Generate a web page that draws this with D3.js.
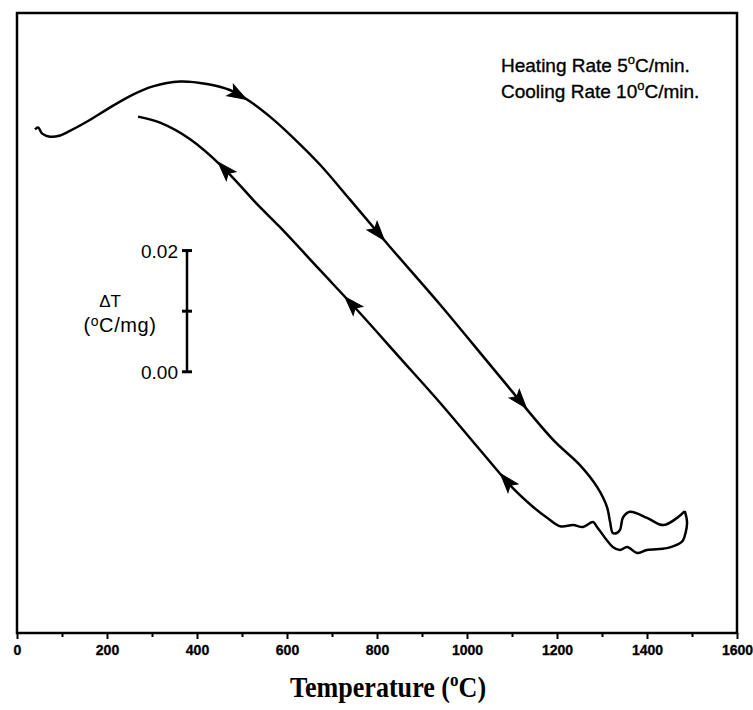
<!DOCTYPE html>
<html>
<head>
<meta charset="utf-8">
<script src="https://cdn.jsdelivr.net/npm/d3@7"></script>
<style>
  body { margin: 0; background: #fff; }
</style>
</head>
<body>
<svg id="chart" width="753" height="710"></svg>
<script>
// DTA trace. Temperature in degC, dT in degC/mg
// (zero placed at the 0.00 mark of the scale bar, the trace has no absolute offset)
const heatT  = [40, 47, 56, 73, 96, 111, 156, 200, 251, 302, 362, 422, 473, 518, 562, 607, 673, 740, 829, 940, 1073, 1191, 1251, 1289, 1311, 1318, 1324, 1333, 1340, 1347, 1362, 1400, 1436, 1467, 1484];
const heatDT = [0.0400, 0.0403, 0.0393, 0.0388, 0.0390, 0.0395, 0.0413, 0.0433, 0.0455, 0.0471, 0.0479, 0.0475, 0.0465, 0.0446, 0.0421, 0.0391, 0.0342, 0.0284, 0.0206, 0.0111, -0.0008, -0.0112, -0.0154, -0.0190, -0.0223, -0.0248, -0.0266, -0.0266, -0.0261, -0.0240, -0.0231, -0.0241, -0.0253, -0.0241, -0.0230];

const coolT  = [1484, 1489, 1480, 1473, 1444, 1400, 1378, 1356, 1340, 1324, 1289, 1280, 1258, 1236, 1207, 1178, 1147, 1102, 1029, 940, 851, 762, 673, 584, 533, 458, 384, 318, 269];
const coolDT = [-0.0230, -0.0250, -0.0278, -0.0283, -0.0291, -0.0294, -0.0299, -0.0289, -0.0294, -0.0289, -0.0256, -0.0248, -0.0256, -0.0253, -0.0255, -0.0241, -0.0223, -0.0192, -0.0129, -0.0051, 0.0023, 0.0097, 0.0168, 0.0239, 0.0277, 0.0337, 0.0384, 0.0411, 0.0421];

// where the direction arrows sit on each run
const heatArrowT = [491, 802, 1118];
const coolArrowT = [462, 744, 1089];

const xTicks = [0, 200, 400, 600, 800, 1000, 1200, 1400, 1600];
const xMinorTicks = [100, 300, 500, 700, 900, 1100, 1300, 1500];

const barTicks = [0, 0.01, 0.02];
const barLabels = ["0.00", "", "0.02"];

// plot box
const width = 753, height = 710;
const margin = {top: 13, left: 17, right: 16, bottom: 77};

const x = d3.scaleLinear()
    .domain([0, 1600])
    .range([margin.left, width - margin.right]);

const y = d3.scaleLinear()
    .domain([-0.0431, 0.0592])
    .range([height - margin.bottom, margin.top]);

const svg = d3.select('#chart');

// frame
svg.append('rect')
    .attr('x', margin.left)
    .attr('y', margin.top)
    .attr('width', width - margin.left - margin.right)
    .attr('height', height - margin.top - margin.bottom)
    .attr('fill', 'none')
    .attr('stroke', '#000')
    .attr('stroke-width', 2.5);

// x axis, major + minor ticks
const xAxis = svg.append('g')
    .attr('transform', `translate(0,${height - margin.bottom})`)
    .call(d3.axisBottom(x).tickValues(xTicks).tickSize(6).tickFormat(d3.format('d')));

xAxis.select('.domain').remove();
xAxis.selectAll('line').attr('stroke-width', 2);
xAxis.selectAll('text')
    .attr('font-family', 'Liberation Sans, Arial, sans-serif')
    .attr('font-weight', 'bold')
    .attr('font-size', 14)
    .attr('stroke', '#000')
    .attr('stroke-width', 0.3)
    .attr('dy', '0.95em');

const xMinor = svg.append('g')
    .attr('transform', `translate(0,${height - margin.bottom})`)
    .call(d3.axisBottom(x).tickValues(xMinorTicks).tickSize(4).tickFormat(''));
xMinor.select('.domain').remove();
xMinor.selectAll('line').attr('stroke-width', 2);

// axis title (condensed bold serif like the scan)
const title = svg.append('text')
    .attr('transform', `translate(${(x(0) + x(1600)) / 2 + 11},697) scale(0.9,1)`)
    .attr('text-anchor', 'middle')
    .attr('font-family', 'Liberation Serif, Times New Roman, serif')
    .attr('font-weight', 'bold')
    .attr('font-size', 29);
title.append('tspan').text('Temperature (');
title.append('tspan').attr('font-size', 19).attr('dy', -11).text('o');
title.append('tspan').attr('dy', 11).text('C)');

// the two runs
const line = d3.line()
    .x(d => x(d[0]))
    .y(d => y(d[1]))
    .curve(d3.curveCatmullRom.alpha(0.5));

const heatPts = heatT.map((t, i) => [t, heatDT[i]]);
const coolPts = coolT.map((t, i) => [t, coolDT[i]]);

svg.append('path')
    .attr('d', line(heatPts))
    .attr('fill', 'none')
    .attr('stroke', '#000')
    .attr('stroke-width', 2.5);

svg.append('path')
    .attr('d', line(coolPts))
    .attr('fill', 'none')
    .attr('stroke', '#000')
    .attr('stroke-width', 2.5);

// find point + heading on a run for a given temperature
function arrowAt(T, ts, vs) {
    for (let i = 0; i < ts.length - 1; i++) {
        const a = ts[i], b = ts[i + 1];
        if (a !== b && (T - a) * (T - b) <= 0) {
            const f = (T - a) / (b - a);
            const v = vs[i] + f * (vs[i + 1] - vs[i]);
            const ang = Math.atan2(y(vs[i + 1]) - y(vs[i]), x(b) - x(a)) * 180 / Math.PI;
            return {px: x(T), py: y(v), ang: ang};
        }
    }
}

const arrows = heatArrowT.map(t => arrowAt(t, heatT, heatDT))
    .concat(coolArrowT.map(t => arrowAt(t, coolT, coolDT)));

svg.selectAll('.arrow')
    .data(arrows)
    .enter()
    .append('path')
    .attr('class', 'arrow')
    .attr('d', 'M10,0 L-9,-6.5 L-5,0 L-9,6.5 Z')
    .attr('transform', d => `translate(${d.px},${d.py}) rotate(${d.ang})`)
    .attr('fill', '#000')
    .attr('stroke', '#000')
    .attr('stroke-width', 1);

// scale bar for dT
const barX = 187;
svg.append('line')
    .attr('x1', barX).attr('x2', barX)
    .attr('y1', y(barTicks[0])).attr('y2', y(barTicks[barTicks.length - 1]))
    .attr('stroke', '#000')
    .attr('stroke-width', 2.5);

svg.selectAll('.barcap')
    .data(barTicks)
    .enter()
    .append('line')
    .attr('class', 'barcap')
    .attr('x1', barX - 5).attr('x2', barX + 5)
    .attr('y1', d => y(d)).attr('y2', d => y(d))
    .attr('stroke', '#000')
    .attr('stroke-width', 3);

svg.selectAll('.barlabel')
    .data(barTicks)
    .enter()
    .append('text')
    .attr('class', 'barlabel')
    .attr('x', barX - 9)
    .attr('y', d => y(d) + 7)
    .attr('text-anchor', 'end')
    .attr('font-family', 'Liberation Sans, Arial, sans-serif')
    .attr('font-size', 19)
    .text((d, i) => barLabels[i]);

svg.append('text')
    .attr('x', 110)
    .attr('y', 307)
    .attr('text-anchor', 'middle')
    .attr('font-family', 'Liberation Sans, Arial, sans-serif')
    .attr('font-size', 17)
    .text('\u0394T');

const unit = svg.append('text')
    .attr('x', 120)
    .attr('y', 332)
    .attr('text-anchor', 'middle')
    .attr('font-family', 'Liberation Sans, Arial, sans-serif')
    .attr('font-size', 20)
    .attr('letter-spacing', 0.6);
unit.append('tspan').text('(');
unit.append('tspan').attr('font-size', 14).attr('dy', -6).text('o');
unit.append('tspan').attr('dy', 6).text('C/mg)');

// rate note, top right
function rateNote(yPos, label) {
    const t = svg.append('text')
        .attr('x', 501)
        .attr('y', yPos)
        .attr('font-family', 'Liberation Sans, Arial, sans-serif')
        .attr('font-size', 19)
        .attr('stroke', '#000')
        .attr('stroke-width', 0.35);
    t.append('tspan').text(label);
    t.append('tspan').attr('font-size', 13).attr('dy', -8).text('o');
    t.append('tspan').attr('dy', 8).text('C/min.');
}
rateNote(72, 'Heating Rate 5');
rateNote(98, 'Cooling Rate 10');
</script>
</body>
</html>
